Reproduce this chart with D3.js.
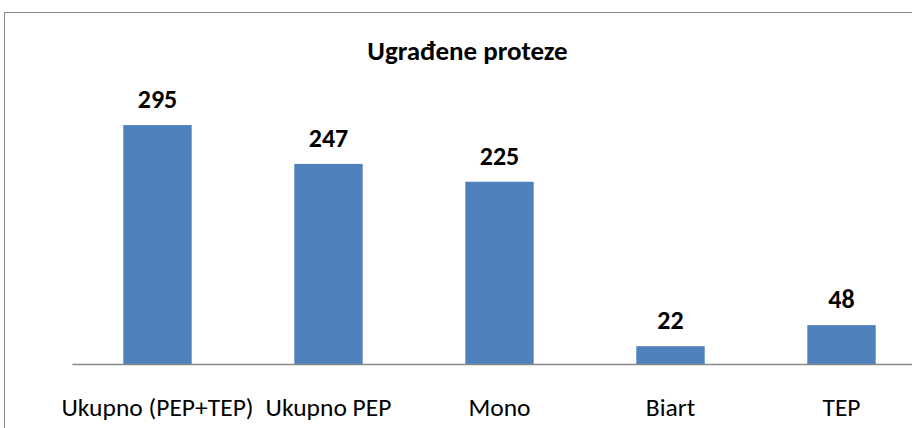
<!DOCTYPE html>
<html>
<head>
<meta charset="utf-8">
<script src="https://cdn.jsdelivr.net/npm/d3@7"></script>
<style>
  body { margin: 0; background: #fff; }
  svg { display: block; }
</style>
</head>
<body>
<div id="chart"></div>
<script>
// data
var categories = ["Ukupno (PEP+TEP)", "Ukupno PEP", "Mono", "Biart", "TEP"];
var values = [295, 247, 225, 22, 48];
var title = "Ugrađene proteze";

var width = 912;
var height = 428;
var font = "Carlito, Calibri, 'Open Sans', sans-serif";

var svg = d3.select("#chart")
    .append("svg")
    .attr("width", width)
    .attr("height", height);

// outer chart border (right and bottom are cut off)
svg.append("rect")
    .attr("x", 4.5)
    .attr("y", 12.5)
    .attr("width", 1000)
    .attr("height", 1000)
    .attr("fill", "none")
    .attr("stroke", "#888")
    .attr("stroke-width", 1);

// plot area runs past the right edge
var x = d3.scaleBand()
    .domain(categories)
    .range([72, 927])
    .paddingInner(0.6)
    .paddingOuter(0.3);

var y = d3.scaleLinear()
    .domain([0, 350])
    .range([364, 80.5]);

svg.append("text")
    .attr("x", 467.5)
    .attr("y", 60)
    .attr("text-anchor", "middle")
    .attr("font-family", font)
    .attr("font-weight", "bold")
    .attr("font-size", 27)
    .attr("fill", "#000")
    .text(title);

var data = categories.map(function(c, i) { return { cat: c, val: values[i] }; });

svg.selectAll("rect.bar")
    .data(data)
    .enter()
    .append("rect")
    .attr("class", "bar")
    .attr("x", function(d) { return x(d.cat); })
    .attr("y", function(d) { return y(d.val); })
    .attr("width", x.bandwidth())
    .attr("height", function(d) { return y(0) - y(d.val); })
    .attr("fill", "#4F81BD");

// value labels
svg.selectAll("text.val")
    .data(data)
    .enter()
    .append("text")
    .attr("class", "val")
    .attr("x", function(d) { return x(d.cat) + x.bandwidth() / 2; })
    .attr("y", function(d) { return y(d.val) - 17; })
    .attr("text-anchor", "middle")
    .attr("font-family", font)
    .attr("font-weight", "bold")
    .attr("font-size", 26)
    .attr("fill", "#000")
    .text(function(d) { return d.val; });

// baseline
var xAxis = d3.axisBottom(x).tickSize(0).tickPadding(34);
var gx = svg.append("g")
    .attr("transform", "translate(0," + y(0) + ")")
    .call(xAxis);

gx.select(".domain")
    .attr("stroke", "#888")
    .attr("stroke-width", 1.5);

gx.selectAll("text")
    .attr("font-family", font)
    .attr("font-size", 25.5)
    .attr("fill", "#000");
</script>
</body>
</html>
